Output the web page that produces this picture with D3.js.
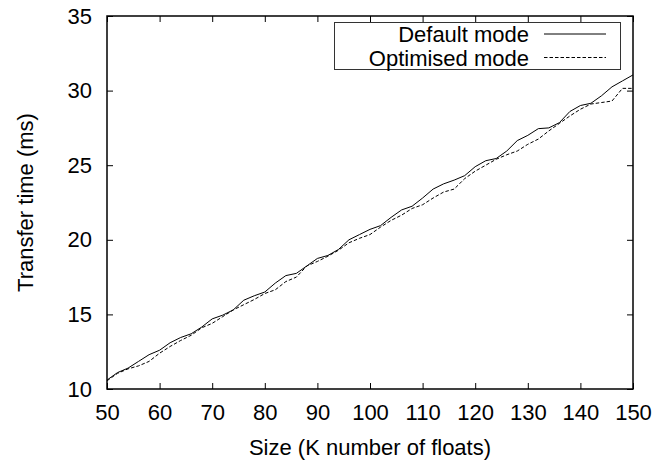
<!DOCTYPE html>
<html>
<head>
<meta charset="utf-8">
<script src="https://cdn.jsdelivr.net/npm/d3@7"></script>
<style>
  body { margin: 0; background: #fff; }
  text { font-family: "Liberation Sans", Arial, sans-serif; }
</style>
</head>
<body>
<div id="wrapper"></div>
<script>
// data
const sizes = [50, 52, 54, 56, 58, 60, 62, 64, 66, 68, 70, 72, 74, 76, 78, 80, 82, 84, 86, 88,
  90, 92, 94, 96, 98, 100, 102, 104, 106, 108, 110, 112, 114, 116, 118, 120, 122, 124, 126, 128,
  130, 132, 134, 136, 138, 140, 142, 144, 146, 148, 150]

const defaultMode = [10.6, 11.1, 11.4, 11.85, 12.3, 12.6, 13.1, 13.45, 13.7, 14.15,
  14.7, 14.95, 15.3, 15.95, 16.25, 16.5, 17.1, 17.6, 17.75, 18.25,
  18.75, 18.95, 19.35, 20.0, 20.35, 20.7, 20.95, 21.5, 22.0, 22.25,
  22.8, 23.4, 23.75, 24.0, 24.3, 24.9, 25.3, 25.45, 25.95, 26.65,
  27.0, 27.45, 27.5, 27.85, 28.6, 29.0, 29.15, 29.65, 30.25, 30.65, 31.05]

const optimisedMode = [10.55, 11.05, 11.35, 11.55, 11.85, 12.4, 12.85, 13.25, 13.6, 14.1,
  14.4, 14.85, 15.3, 15.65, 16.0, 16.4, 16.65, 17.2, 17.5, 18.25,
  18.55, 18.9, 19.3, 19.8, 20.1, 20.35, 20.85, 21.3, 21.65, 22.1,
  22.35, 22.8, 23.2, 23.4, 24.1, 24.6, 25.0, 25.4, 25.7, 25.95,
  26.4, 26.75, 27.3, 27.8, 28.3, 28.75, 29.1, 29.2, 29.3, 30.15, 30.15]

const xTicks = [50, 60, 70, 80, 90, 100, 110, 120, 130, 140, 150]
const yTicks = [10, 15, 20, 25, 30, 35]

const seriesNames = ['Default mode', 'Optimised mode']

//dimensions
let dimensions = {
  width: 659,
  height: 466,
  margin: { top: 16, right: 26, bottom: 77, left: 107 }
}
dimensions.boundedWidth = dimensions.width - dimensions.margin.left - dimensions.margin.right
dimensions.boundedHeight = dimensions.height - dimensions.margin.top - dimensions.margin.bottom

const wrapper = d3.select('#wrapper')
  .append('svg')
    .attr('width', dimensions.width)
    .attr('height', dimensions.height)

const bounds = wrapper.append('g')
  .attr('transform', `translate(${dimensions.margin.left}, ${dimensions.margin.top})`)

//scales
const xScale = d3.scaleLinear()
  .domain([50, 150])
  .range([0, dimensions.boundedWidth])

const yScale = d3.scaleLinear()
  .domain([10, 35])
  .range([dimensions.boundedHeight, 0])

const fontSize = 22

//axes, gnuplot style: inward ticks on all four sides
const styleAxis = g => {
  g.select('.domain').remove()
  g.selectAll('line').attr('stroke', '#000').attr('stroke-width', 1)
  g.selectAll('text')
    .attr('fill', '#000')
    .style('font-size', fontSize + 'px')
}

bounds.append('g')
  .attr('transform', `translate(0, ${dimensions.boundedHeight})`)
  .call(d3.axisBottom(xScale).tickValues(xTicks).tickSizeInner(-6).tickSizeOuter(0).tickPadding(15))
  .call(styleAxis)

bounds.append('g')
  .call(d3.axisTop(xScale).tickValues(xTicks).tickSizeInner(-6).tickSizeOuter(0).tickFormat(''))
  .call(styleAxis)

bounds.append('g')
  .call(d3.axisLeft(yScale).tickValues(yTicks).tickSizeInner(-6).tickSizeOuter(0).tickPadding(15))
  .call(styleAxis)

bounds.append('g')
  .attr('transform', `translate(${dimensions.boundedWidth}, 0)`)
  .call(d3.axisRight(yScale).tickValues(yTicks).tickSizeInner(-6).tickSizeOuter(0).tickFormat(''))
  .call(styleAxis)

bounds.append('rect')
  .attr('width', dimensions.boundedWidth)
  .attr('height', dimensions.boundedHeight)
  .attr('fill', 'none')
  .attr('stroke', '#000')
  .attr('stroke-width', 1.5)

//lines
const lineGen = values => d3.line()
  .x((d, i) => xScale(sizes[i]))
  .y(d => yScale(d))(values)

bounds.append('path')
  .attr('d', lineGen(defaultMode))
  .attr('fill', 'none')
  .attr('stroke', '#000')
  .attr('stroke-width', 1)

bounds.append('path')
  .attr('d', lineGen(optimisedMode))
  .attr('fill', 'none')
  .attr('stroke', '#000')
  .attr('stroke-width', 1)
  .attr('stroke-dasharray', '3.5,2')

//legend
const legend = wrapper.append('g')
legend.append('rect')
  .attr('x', 334.5).attr('y', 22.5)
  .attr('width', 286).attr('height', 47)
  .attr('fill', '#fff')
  .attr('stroke', '#333')
  .attr('stroke-width', 1)

seriesNames.forEach((name, i) => {
  const cy = 34 + i * 23.5
  legend.append('text')
    .attr('x', 529)
    .attr('y', cy + 8)
    .attr('text-anchor', 'end')
    .style('font-size', fontSize + 'px')
    .text(name)
  legend.append('line')
    .attr('x1', 544).attr('x2', 606)
    .attr('y1', cy).attr('y2', cy)
    .attr('stroke', '#000')
    .attr('stroke-width', 1)
    .attr('stroke-dasharray', i === 1 ? '3.5,2' : null)
})

//axis labels
wrapper.append('text')
  .attr('x', dimensions.margin.left + dimensions.boundedWidth / 2)
  .attr('y', 455)
  .attr('text-anchor', 'middle')
  .style('font-size', fontSize + 'px')
  .text('Size (K number of floats)')

wrapper.append('text')
  .attr('transform', `translate(33, ${dimensions.margin.top + dimensions.boundedHeight / 2}) rotate(-90)`)
  .attr('text-anchor', 'middle')
  .style('font-size', fontSize + 'px')
  .text('Transfer time (ms)')
</script>
</body>
</html>
